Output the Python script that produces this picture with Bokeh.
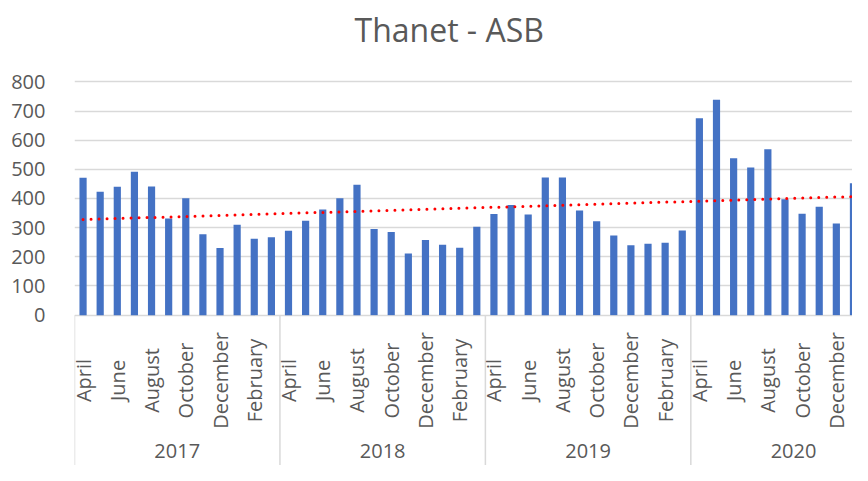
import numpy as np
from bokeh.plotting import figure
from bokeh.models import Range1d, FixedTicker
from bokeh.core.properties import value
from bokeh.embed import file_html
from bokeh.resources import INLINE

# ---- data ----
years = ["2017", "2018", "2019", "2020"]
months = ["April", "May", "June", "July", "August", "September", "October",
          "November", "December", "January", "February", "March"]
asb_2017 = [471, 423, 440, 492, 441, 331, 401, 277, 230, 310, 262, 267]
asb_2018 = [289, 324, 362, 401, 447, 295, 285, 211, 258, 241, 231, 303]
asb_2019 = [347, 378, 345, 472, 472, 359, 322, 273, 240, 245, 248, 290]
asb_2020 = [675, 739, 538, 506, 569, 397, 348, 372, 314, 452]
y_ticks = [0, 100, 200, 300, 400, 500, 600, 700, 800]

series = [asb_2017, asb_2018, asb_2019, asb_2020]
vals = [v for s in series for v in s]
n = len(vals)
xs = [i + 0.5 for i in range(n)]

# month labels (every other month, as Excel shows them)
lab_x, lab_t = [], []
group_starts, group_centers = [], []
k = 0
for yr, s in zip(years, series):
    group_starts.append(k)
    group_centers.append(k + 6)
    for j in range(len(s)):
        if j % 2 == 0:
            lab_x.append(k + j + 0.5)
            lab_t.append(months[j])
    k += len(s)

# linear trend (least squares) like Excel
coef = np.polyfit(np.arange(n), np.array(vals, dtype=float), 1)
trend_x = [xs[0], xs[-1]]
trend_y = [float(np.polyval(coef, 0)), float(np.polyval(coef, n - 1))]

# ---- layout constants ----
W, H = 852, 465
LEFT = 74         # frame left (px)
TOP = 56          # frame top (title panel height, px)
ZERO = 315        # canvas y of value 0
PPU = 0.2909      # pixels per unit
SLOT = 17.12      # pixels per month
y_top = (ZERO - TOP) / PPU
y_bot = (ZERO - H) / PPU
x_end = (W - LEFT) / SLOT

TXT = "#595959"
FONT = "Open Sans"

p = figure(width=W, height=H, output_backend="svg", toolbar_location=None,
           x_range=Range1d(0, x_end), y_range=Range1d(y_bot, y_top),
           x_axis_location=None,
           min_border_left=LEFT, min_border_right=0, min_border_bottom=0,
           min_border_top=0, title="Thanet - ASB")
p.outline_line_color = None
p.background_fill_color = "white"
p.border_fill_color = "white"

p.title.text_font = FONT
p.title.text_font_size = "32px"
p.title.text_font_style = "normal"
p.title.text_color = TXT
p.title.align = "left"
p.title.offset = 280

p.xgrid.visible = False

tick = FixedTicker(ticks=y_ticks)
p.yaxis.ticker = tick
p.ygrid.ticker = tick
p.ygrid.grid_line_color = "#d9d9d9"
p.ygrid.grid_line_width = 1.5
p.yaxis.axis_line_color = None
p.yaxis.major_tick_line_color = None
p.yaxis.minor_tick_line_color = None
p.yaxis.major_label_text_font = FONT
p.yaxis.major_label_text_font_size = "20px"
p.yaxis.major_label_text_color = TXT
p.yaxis.major_label_standoff = 23

# separators of the category axis
sep_x = group_starts
p.segment(x0=sep_x, y0=[0] * len(sep_x), x1=sep_x, y1=[y_bot] * len(sep_x),
          line_color="#d9d9d9", line_width=1.5)

p.vbar(x=xs, top=vals, width=0.42, bottom=0, fill_color="#4472C4", line_color=None)

p.line(trend_x, trend_y, line_color="#FF0000", line_width=3,
       line_dash="0 8", line_cap="round")

p.text(x=lab_x, y=[-224] * len(lab_x), text=lab_t, angle=np.pi / 2,
       text_align="center", text_baseline="middle",
       text_font=value(FONT), text_font_size="20px", text_color=TXT)

p.text(x=group_centers, y=[-466] * len(group_centers), text=years,
       text_align="center", text_baseline="middle",
       text_font=value(FONT), text_font_size="20px", text_color=TXT)

open("out.html", "w").write(file_html(p, INLINE))
